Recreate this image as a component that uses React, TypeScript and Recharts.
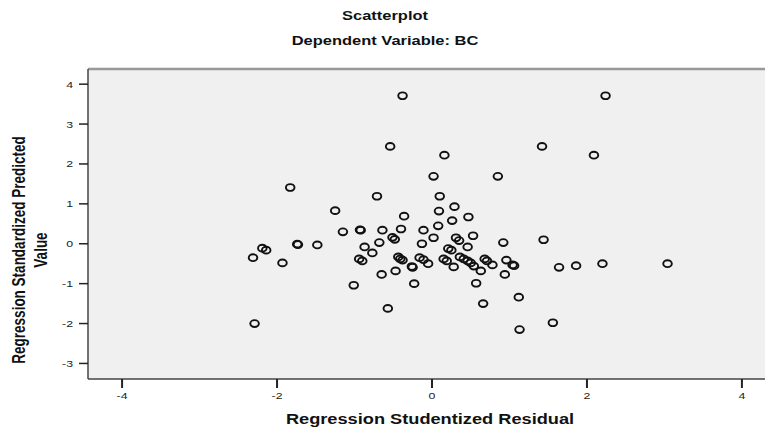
import React from 'react';
import { ScatterChart, Scatter, XAxis, YAxis, CartesianGrid, ReferenceLine } from 'recharts';

const residuals = [
  -0.38, 2.24, -0.54, 1.42, 0.16, 2.09, 0.02, 0.85, -1.83, -0.71,
  0.10, 0.29, -1.25, 0.09, -0.36, 0.47, 0.26, 0.08, -1.15, -0.93,
  -0.92, -0.64, -0.40, -0.11, -0.51, -0.48, 0.02, 0.31, 0.35, 0.53,
  0.92, 1.44, -0.68, -0.13, -1.74, -1.73, -1.48, -2.19, -2.14, -2.31,
  -1.93, -0.87, -0.77, -0.94, -0.90, -0.435, -0.41, -0.38, 0.21, 0.25,
  0.46, -0.26, -0.25, -0.16, -0.11, -0.05, 0.15, 0.19, 0.28, 0.36,
  0.41, 0.46, 0.50, 0.54, 0.63, 0.68, 0.71, 0.78, 0.96, 1.04,
  1.06, 0.94, 1.64, 1.86, 2.20, 3.04, -0.47, -0.65, -0.23, 0.57,
  -1.01, 1.12, 0.66, -0.57, -2.29, 1.13, 1.56,
];

const predicted = [
  3.71, 3.71, 2.44, 2.44, 2.22, 2.22, 1.69, 1.69, 1.41, 1.19,
  1.19, 0.93, 0.83, 0.82, 0.69, 0.67, 0.58, 0.45, 0.30, 0.35,
  0.34, 0.34, 0.37, 0.34, 0.16, 0.11, 0.15, 0.15, 0.08, 0.20,
  0.03, 0.10, 0.03, 0.00, -0.01, -0.02, -0.03, -0.11, -0.16, -0.35,
  -0.48, -0.08, -0.23, -0.38, -0.43, -0.33, -0.38, -0.41, -0.12, -0.16,
  -0.08, -0.57, -0.59, -0.35, -0.40, -0.50, -0.38, -0.43, -0.58, -0.33,
  -0.38, -0.43, -0.48, -0.56, -0.68, -0.38, -0.43, -0.53, -0.41, -0.53,
  -0.55, -0.77, -0.59, -0.55, -0.50, -0.50, -0.68, -0.77, -1.00, -0.99,
  -1.04, -1.34, -1.50, -1.62, -2.00, -2.15, -1.98,
];

const xTicks = [-4, -2, 0, 2, 4];
const yTicks = [-3, -2, -1, 0, 1, 2, 3, 4];
const xDomain: [number, number] = [-4.44, 4.44];
const yDomain: [number, number] = [-3.39, 4.38];

const titleText = 'Scatterplot';
const subtitleText = 'Dependent Variable: BC';
const xTitle = 'Regression Studentized Residual';
const yTitleLines = ['Regression Standardized Predicted', 'Value'];

const data = residuals.map((x, i) => ({ x, y: predicted[i] }));

const FONT = '"Liberation Sans", Arial, sans-serif';
const STRETCH = 1.3;

const XTick = (props: any) => {
  const { x, y, payload } = props;
  return (
    <g transform={`translate(${x},${y})`}>
      <text
        transform={`scale(${STRETCH},1)`}
        x={0}
        y={0}
        dy={11}
        textAnchor="middle"
        fontFamily={FONT}
        fontSize={9.5}
        fill="#222"
      >
        {payload.value}
      </text>
    </g>
  );
};

const YTick = (props: any) => {
  const { x, y, payload } = props;
  return (
    <g transform={`translate(${x},${y})`}>
      <text
        transform={`scale(${STRETCH},1)`}
        x={0}
        y={0}
        dy={3.5}
        textAnchor="end"
        fontFamily={FONT}
        fontSize={9.5}
        fill="#222"
      >
        {payload.value}
      </text>
    </g>
  );
};

const Ring = (props: any) => {
  const { cx, cy } = props;
  if (cx == null || cy == null) return null;
  return <ellipse cx={cx} cy={cy} rx={4.3} ry={3.4} fill="none" stroke="#111" strokeWidth={1.9} />;
};

const textBase: React.CSSProperties = {
  position: 'absolute',
  fontFamily: FONT,
  fontWeight: 'bold',
  color: '#111',
  whiteSpace: 'nowrap',
};

export default function App() {
  return (
    <div style={{ position: 'absolute', left: 0, top: 0, width: 765, height: 431, overflow: 'hidden', background: '#fff' }}>
      <ScatterChart
        width={776}
        height={431}
        margin={{ top: 69, right: 0, bottom: 0, left: 0 }}
        style={{ position: 'absolute', left: 0, top: 0 }}
      >
        <CartesianGrid fill="#f0f0f0" horizontal={false} vertical={false} />
        <XAxis
          type="number"
          dataKey="x"
          domain={xDomain}
          ticks={xTicks}
          allowDataOverflow
          height={52}
          tickSize={9}
          tickMargin={0}
          tick={<XTick />}
          axisLine={{ stroke: '#444', strokeWidth: 1.5 }}
          tickLine={{ stroke: '#222', strokeWidth: 2 }}
        />
        <YAxis
          type="number"
          dataKey="y"
          domain={yDomain}
          ticks={yTicks}
          allowDataOverflow
          width={88}
          tickSize={9}
          tickMargin={6}
          tick={<YTick />}
          axisLine={{ stroke: '#444', strokeWidth: 1.5 }}
          tickLine={{ stroke: '#222', strokeWidth: 1.5 }}
        />
        <ReferenceLine y={yDomain[1]} stroke="#999" strokeWidth={2.5} />
        <Scatter data={data} shape={<Ring />} isAnimationActive={false} />
      </ScatterChart>

      <div style={{ ...textBase, left: 385, top: 8, fontSize: 13.5, transform: `translateX(-50%) scaleX(1.22)` }}>
        {titleText}
      </div>
      <div style={{ ...textBase, left: 385, top: 33, fontSize: 13.5, transform: `translateX(-50%) scaleX(1.22)` }}>
        {subtitleText}
      </div>
      <div style={{ ...textBase, left: 430, top: 411, fontSize: 14, transform: `translateX(-50%) scaleX(${STRETCH})` }}>
        {xTitle}
      </div>
      <div
        style={{
          ...textBase,
          left: 30,
          top: 250,
          fontSize: 13.5,
          lineHeight: '17px',
          textAlign: 'center',
          transform: `translate(-50%,-50%) scaleX(${STRETCH}) rotate(-90deg)`,
        }}
      >
        {yTitleLines[0]}
        <br />
        {yTitleLines[1]}
      </div>
    </div>
  );
}
